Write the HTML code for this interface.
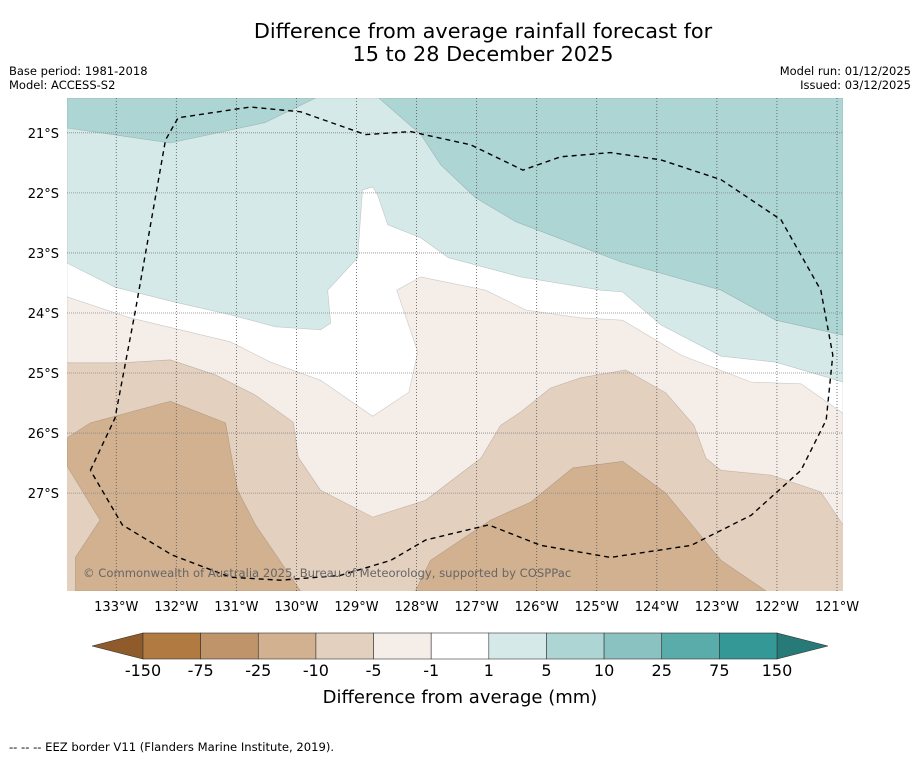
<!DOCTYPE html>
<html><head><meta charset="utf-8">
<style>
body{margin:0;background:#fff;width:919px;height:758px;overflow:hidden;font-family:"DejaVu Sans","Liberation Sans",sans-serif;}
svg{position:absolute;left:0;top:0;}
</style></head>
<body>
<svg id="chart" width="919" height="758" viewBox="0 0 919 758" xmlns="http://www.w3.org/2000/svg" font-family="DejaVu Sans, Liberation Sans, sans-serif">
<text x="483" y="38" text-anchor="middle" font-size="20.8">Difference from average rainfall forecast for</text>
<text x="483" y="61" text-anchor="middle" font-size="20.8">15 to 28 December 2025</text>
<text x="9" y="75" font-size="11.5">Base period: 1981-2018</text>
<text x="9" y="89" font-size="11.5">Model: ACCESS-S2</text>
<text x="911" y="75" font-size="11.5" text-anchor="end">Model run: 01/12/2025</text>
<text x="911" y="89" font-size="11.5" text-anchor="end">Issued: 03/12/2025</text>
<defs><clipPath id="mapclip"><rect x="67" y="98" width="776" height="493"/></clipPath></defs>
<g id="map" clip-path="url(#mapclip)"></g>
<g id="axes"></g>
<text x="83" y="577" font-size="11.6" fill="#666">© Commonwealth of Australia 2025, Bureau of Meteorology, supported by COSPPac</text>
<g id="colorbar"></g>
<text x="460" y="703" text-anchor="middle" font-size="18">Difference from average (mm)</text>
<text x="9" y="751" font-size="11.6">--  --  -- EEZ border V11 (Flanders Marine Institute, 2019).</text>
</svg>
<script>
// Axis ticks
const lonTicks = [-133,-132,-131,-130,-129,-128,-127,-126,-125,-124,-123,-122,-121];
const latTicks = [-21,-22,-23,-24,-25,-26,-27];
const lonBounds = [-133.82,-120.9];
const latBounds = [-20.42,-28.63];
// Colorbar
const cbBounds = [-150,-75,-25,-10,-5,-1,1,5,10,25,75,150];
const cbColors = ["#b07a40","#c0946a","#d2b190","#e3d0bf","#f4ede8","#ffffff","#d5e9e8","#acd5d4","#8ac2c1","#5aacab","#339896"];
const cbUnder = "#8f5b2a", cbOver = "#277a78";
// Contour regions [lon,lat]
const region1to5 = [[-133.82,-23.17],[-133.02,-23.57],[-132.02,-23.82],[-131.1,-24.03],[-130.35,-24.23],[-129.6,-24.28],[-129.43,-24.17],[-129.48,-23.62],[-128.98,-23.08],[-128.9,-21.95],[-128.73,-21.9],[-128.65,-22.03],[-128.48,-22.53],[-127.93,-22.75],[-127.47,-23.08],[-126.27,-23.4],[-124.93,-23.62],[-124.57,-23.65],[-123.93,-24.2],[-122.93,-24.72],[-122.02,-24.82],[-120.9,-25.15],[-120.9,-20.42],[-133.82,-20.42]];
const regionM1to1 = [[-133.82,-23.73],[-132.77,-24.08],[-131.1,-24.48],[-130.43,-24.82],[-129.6,-25.12],[-128.73,-25.72],[-128.13,-25.32],[-127.98,-24.65],[-128.33,-23.62],[-127.93,-23.4],[-126.85,-23.62],[-126.18,-23.95],[-125.27,-24.08],[-124.57,-24.12],[-123.6,-24.7],[-122.43,-25.15],[-121.6,-25.18],[-120.9,-25.67],[-120.9,-20.42],[-133.82,-20.42]];
const regionM5toM1 = [[-133.82,-24.83],[-132.93,-24.83],[-132.1,-24.78],[-131.35,-25.03],[-130.68,-25.37],[-130.05,-25.82],[-129.97,-26.4],[-129.6,-26.95],[-128.73,-27.4],[-127.85,-27.12],[-126.93,-26.42],[-126.6,-25.87],[-126.27,-25.65],[-125.77,-25.25],[-125.27,-25.08],[-124.52,-24.95],[-123.85,-25.33],[-123.38,-25.87],[-123.18,-26.42],[-122.93,-26.62],[-122.1,-26.7],[-121.27,-26.98],[-120.9,-27.53],[-120.9,-20.42],[-133.82,-20.42]];
const region5to10A = [[-133.82,-20.42],[-129.68,-20.42],[-130.52,-20.83],[-132.1,-21.17],[-133.82,-20.92]];
const region5to10B = [[-128.63,-20.42],[-120.9,-20.42],[-120.9,-24.37],[-122.02,-24.12],[-122.93,-23.62],[-124.6,-23.15],[-126.35,-22.48],[-127.02,-22.08],[-127.6,-21.53],[-127.93,-21.03]];
const regionM25A = [[-133.82,-26.08],[-133.43,-25.83],[-132.1,-25.47],[-131.18,-25.83],[-130.98,-26.95],[-130.68,-27.53],[-129.93,-28.63],[-133.68,-28.63],[-133.68,-28.07],[-133.27,-27.45],[-133.82,-26.55]];
const regionM25B = [[-128.02,-28.63],[-127.77,-28.12],[-126.77,-27.45],[-126.1,-27.15],[-125.4,-26.58],[-124.57,-26.47],[-123.85,-27],[-122.93,-28.12],[-122.18,-28.63]];
const eezBorder = [[-133.43,-26.62],[-133.02,-25.75],[-132.68,-23.95],[-132.18,-21.12],[-131.97,-20.75],[-130.77,-20.57],[-129.93,-20.65],[-128.85,-21.03],[-128.1,-20.98],[-127.1,-21.2],[-126.23,-21.62],[-125.6,-21.4],[-124.77,-21.33],[-123.93,-21.45],[-122.93,-21.78],[-121.93,-22.45],[-121.27,-23.62],[-121.07,-24.7],[-121.18,-25.78],[-121.6,-26.62],[-122.43,-27.37],[-123.43,-27.87],[-124.77,-28.07],[-125.93,-27.87],[-126.8,-27.53],[-127.85,-27.78],[-128.43,-28.12],[-129.27,-28.37],[-130.27,-28.45],[-131.1,-28.4],[-132.07,-28.03],[-132.9,-27.53],[-133.43,-26.62]];

const NS="http://www.w3.org/2000/svg";
const X0=67,X1=843,Y0=98,Y1=591;
function xs(lon){return X0+(lon-lonBounds[0])/(lonBounds[1]-lonBounds[0])*(X1-X0);}
function ys(lat){return Y0+(lat-latBounds[0])/(latBounds[1]-latBounds[0])*(Y1-Y0);}
function mk(tag,attrs,parent){const e=document.createElementNS(NS,tag);for(const k in attrs)e.setAttribute(k,attrs[k]);parent.appendChild(e);return e;}
function pts(arr){return arr.map(p=>xs(p[0]).toFixed(1)+","+ys(p[1]).toFixed(1)).join(" ");}
const map=document.getElementById('map');
let bg=mk('rect',{x:X0,y:Y0,width:X1-X0,height:Y1-Y0,fill:cbColors[3]},map);


const layers=[[regionM5toM1,cbColors[4],'region-minus5-to-minus1'],[regionM1to1,cbColors[5],'region-minus1-to-1'],[region1to5,cbColors[6],'region-1-to-5'],[region5to10A,cbColors[7],'region-5-to-10-west'],[region5to10B,cbColors[7],'region-5-to-10-east'],[regionM25A,cbColors[2],'region-minus25-to-minus10-west'],[regionM25B,cbColors[2],'region-minus25-to-minus10-east']];
layers.forEach(l=>{
  const p=mk('polygon',{points:pts(l[0]),fill:l[1],stroke:'rgba(0,0,0,0.18)','stroke-width':0.6},map);
  
  
});
lonTicks.forEach(t=>{
  const l=mk('line',{x1:xs(t),x2:xs(t),y1:Y0,y2:Y1,stroke:'#555','stroke-width':0.8,'stroke-dasharray':'1,2'},map);
  
  
});
latTicks.forEach(t=>{
  const l=mk('line',{x1:X0,x2:X1,y1:ys(t),y2:ys(t),stroke:'#888','stroke-width':0.8,'stroke-dasharray':'1,1'},map);
  
  
});
const eez=mk('polyline',{points:pts(eezBorder),fill:'none',stroke:'#000','stroke-width':1.4,'stroke-dasharray':'5,4'},map);


const axes=document.getElementById('axes');
lonTicks.forEach(t=>{
  const tx=mk('text',{x:xs(t),y:611,'text-anchor':'middle','font-size':13},axes);
  tx.textContent=Math.abs(t)+'°W';
  
  
});
latTicks.forEach(t=>{
  const tx=mk('text',{x:59,y:ys(t)+5,'text-anchor':'end','font-size':13},axes);
  tx.textContent=Math.abs(t)+'°S';
  
  
});
const cb=document.getElementById('colorbar');
const CB0=143,CB1=777,CBT=633,CBB=659,n=cbColors.length,w=(CB1-CB0)/n;
const lt=mk('polygon',{points:`92,646 ${CB0},${CBT} ${CB0},${CBB}`,fill:cbUnder,stroke:'#333','stroke-width':0.6},cb);


const rt=mk('polygon',{points:`828,646 ${CB1},${CBT} ${CB1},${CBB}`,fill:cbOver,stroke:'#333','stroke-width':0.6},cb);


cbColors.forEach((c,i)=>{
  const r=mk('rect',{x:CB0+i*w,y:CBT,width:w,height:CBB-CBT,fill:c,stroke:'#333','stroke-width':0.6},cb);
  
  
});
cbBounds.forEach((b,i)=>{
  const tx=mk('text',{x:CB0+i*w,y:676,'text-anchor':'middle','font-size':16},cb);
  tx.textContent=b;
  
  
});
</script>
</body></html>
